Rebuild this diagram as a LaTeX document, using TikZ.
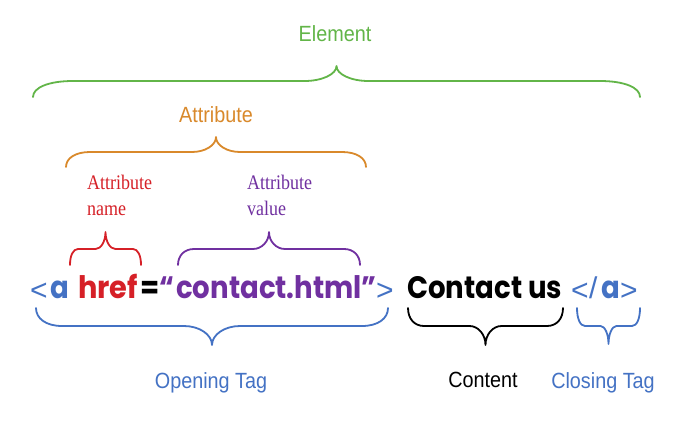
\documentclass[tikz,border=0pt]{standalone}
\usepackage{fontspec}
\setmainfont{Liberation Sans}
\newfontfamily\codefont{Poppins}
\newfontfamily\labserif{Liberation Serif}
\newfontfamily\brfont{Liberation Sans}
\definecolor{elgreen}{HTML}{62B548}
\definecolor{attorange}{HTML}{D9892B}
\definecolor{namered}{HTML}{D62027}
\definecolor{valpurple}{HTML}{7030A0}
\definecolor{tagblue}{HTML}{4472C4}
\newcommand{\cbrace}[8]{%
 \pgfmathsetmacro\bxm{(#2+#3)/2}%
 \draw[bracestyle,#1] (#2,#4) .. controls (#2,{#4+0.6*(#5-#4)}) and ({#2+0.4*#7},#5) .. ({#2+#7},#5)
   -- ({\bxm-#8},#5) .. controls ({\bxm-0.45*#8},#5) and (\bxm,{#5+0.45*(#6-#5)}) .. (\bxm,#6)
   .. controls (\bxm,{#5+0.45*(#6-#5)}) and ({\bxm+0.45*#8},#5) .. ({\bxm+#8},#5)
   -- ({#3-#7},#5) .. controls ({#3-0.4*#7},#5) and (#3,{#4+0.6*(#5-#4)}) .. (#3,#4);}
\newcommand{\cw}[2][0.89]{\scalebox{#1}[1]{#2}}
\begin{document}
\begin{tikzpicture}[x=1pt,y=-1pt,
  bracestyle/.style={line width=1.8pt,line cap=round,line join=round},
  biglabel/.style={inner sep=0pt,anchor=base,font=\fontsize{22}{26}\selectfont},
  serlabel/.style={inner sep=0pt,anchor=base west,align=left,font=\labserif\fontsize{18}{26}\selectfont},
  codetxt/.style={inner sep=0pt,anchor=base west,font=\codefont\bfseries\fontsize{31}{34}\selectfont},
  brtxt/.style={inner sep=0pt,anchor=base west,text=tagblue,font=\brfont\fontsize{30}{34}\selectfont}]
\useasboundingbox[fill=white] (0,0) rectangle (690,423);
% labels
\node[biglabel,text=elgreen] (element) at (335,41) {\scalebox{0.9}[1]{Element}};
\node[biglabel,text=attorange] (attribute) at (216,122) {\scalebox{0.9}[1]{Attribute}};
\node[serlabel,text=namered] (attname) at (87,215) {\scalebox{1}[1.15]{Attribute}\\[0pt]\scalebox{1}[1.15]{name}};
\node[serlabel,text=valpurple] (attvalue) at (247,215) {\scalebox{1}[1.15]{Attribute}\\[0pt]\scalebox{1}[1.15]{value}};
\node[biglabel,text=tagblue] (opening) at (211,388) {\scalebox{0.9}[1]{Opening Tag}};
\node[biglabel,text=black] (content) at (483,387) {\scalebox{0.9}[1]{Content}};
\node[biglabel,text=tagblue] (closing) at (603,388) {\scalebox{0.9}[1]{Closing Tag}};
% code line
\node[brtxt] (lt) at (30,300) {<};
\node[codetxt,text=tagblue] (tagA) at (50,298) {\cw{a}};
\node[codetxt,text=namered] (href) at (78,298) {\cw[0.93]{href}};
\node[codetxt,text=black] (eq) at (140,298) {\cw{=}};
\node[codetxt,text=valpurple] (oq) at (159,298) {\cw{“}};
\node[codetxt,text=valpurple] (val) at (176,298) {\cw{contact.html}};
\node[codetxt,text=valpurple] (cq) at (361,298) {\cw{”}};
\node[brtxt] (gt) at (376,300) {>};
\node[codetxt,text=black] (cont) at (407,298) {\cw{Contact us}};
\node[brtxt] (lt2) at (571,300) {<};
\node[brtxt] (slash) at (589,298) {/};
\node[codetxt,text=tagblue] (tagA2) at (601,298) {\cw{a}};
\node[brtxt] (gt2) at (620,300) {>};
% braces
\cbrace{elgreen}{33}{640}{97}{81}{66}{40}{32}
\cbrace{attorange}{66}{366}{167}{152}{137}{24}{24}
\cbrace{namered}{70}{141}{265}{249}{232}{8}{10}
\cbrace{valpurple}{178}{360}{265}{249}{232}{16}{16}
\cbrace{tagblue}{36}{388}{308}{326}{345}{26}{28}
\cbrace{black}{408}{563}{308}{326}{345}{16}{16}
\cbrace{tagblue}{577}{640}{308}{326}{344}{8}{8}
\end{tikzpicture}
\end{document}
